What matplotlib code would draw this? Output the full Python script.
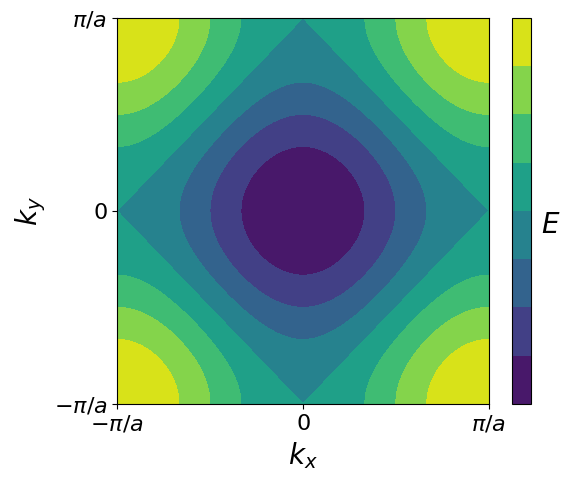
import numpy as np
import matplotlib.pyplot as plt

# square lattice tight-binding band, E = -2t(cos kx a + cos ky a)
a = 1.0
t = 1.0
n_k = 401
kx = np.linspace(-np.pi / a, np.pi / a, n_k)
ky = np.linspace(-np.pi / a, np.pi / a, n_k)
n_levels = 8

tick_pos = [-np.pi / a, 0, np.pi / a]
tick_labels = [r'$-\pi/a$', r'$0$', r'$\pi/a$']

KX, KY = np.meshgrid(kx, ky)
E = -2 * t * (np.cos(KX * a) + np.cos(KY * a))

fig = plt.figure(figsize=(5.71, 4.83), dpi=100)
ax = fig.add_axes([0.205, 0.164, 0.651, 0.799])
cax = fig.add_axes([0.897, 0.164, 0.033, 0.799])

cs = ax.contourf(KX, KY, E, levels=np.linspace(-4 * t, 4 * t, n_levels + 1), cmap='viridis')
ax.set_xticks(tick_pos)
ax.set_xticklabels(tick_labels)
ax.set_yticks(tick_pos)
ax.set_yticklabels(tick_labels)
ax.tick_params(labelsize=16)
ax.set_xlabel(r'$k_x$', fontsize=20)
ax.set_ylabel(r'$k_y$', fontsize=20)

cb = fig.colorbar(cs, cax=cax)
cb.set_ticks([])
cb.set_label(r'$E$', fontsize=20, rotation=0, labelpad=14, va='top')

fig.savefig('out.png', dpi=100)
